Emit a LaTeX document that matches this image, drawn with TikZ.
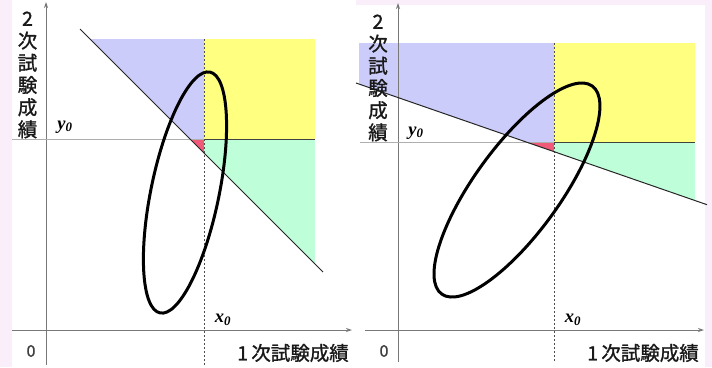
\documentclass[tikz,border=0pt]{standalone}
\usepackage{fontspec}
\setmainfont{Liberation Serif}
\newfontfamily\cjk[FakeBold=1.2]{Noto Sans CJK JP}
\usetikzlibrary{arrows.meta}
\definecolor{bgpink}{RGB}{250,238,250}
\definecolor{regblue}{RGB}{204,204,250}
\definecolor{regyellow}{RGB}{255,255,128}
\definecolor{reggreen}{RGB}{190,255,218}
\definecolor{regred}{RGB}{240,90,120}
\definecolor{axisgray}{RGB}{120,120,120}
\definecolor{y0gray}{RGB}{175,175,175}
\tikzset{
  axisline/.style={draw=axisgray,line width=1pt,-{Stealth[length=6pt,width=4pt]}},
  refline/.style={draw=y0gray,line width=1pt},
  bordline/.style={draw=black!75,line width=1pt},
  dashline/.style={draw=black!70,line width=0.7pt,dash pattern=on 2pt off 2pt},
  diagline/.style={draw=black!85,line width=1pt},
  ovalline/.style={draw=black,line width=3pt},
  cjklab/.style={font=\cjk\fontsize{19.5}{22.2}\selectfont,inner sep=0pt,text=black!90},
  zerolab/.style={font=\cjk\fontsize{16}{18}\selectfont,inner sep=0pt,text=black!75},
  varlab/.style={font=\fontsize{18.5}{20}\selectfont\bfseries\itshape,inner sep=0pt},
}
\begin{document}
\begin{tikzpicture}[x=1pt,y=-1pt]
\useasboundingbox (0,0) rectangle (712,367);
\fill[bgpink] (0,0) rectangle (712,367);
\fill[white] (12,0) rectangle (356,367);
\fill[white] (356,5) rectangle (705,367);

% ===== Left panel =====
\fill[regblue] (90,39) -- (204,39) -- (204,139) -- (190,139) -- cycle;
\fill[regred] (190,139) -- (204,139) -- (204,153) -- cycle;
\fill[regyellow] (204,39) rectangle (315,139);
\fill[reggreen] (204,139) -- (315,139) -- (315,264) -- (204,153) -- cycle;

\coordinate (LyB) at (46,365); \coordinate (LyT) at (46,2);
\coordinate (LxL) at (12,330); \coordinate (LxR) at (352,330);
\coordinate (Ly0L) at (12,139); \coordinate (Ly0M) at (204,139); \coordinate (Ly0R) at (315,139);
\coordinate (Lx0T) at (204,39); \coordinate (Lx0B) at (204,365);
\coordinate (LdA) at (80,29); \coordinate (LdB) at (323,272);
\coordinate (LeC) at (185,192.5);

\draw[axisline] (LyB) -- (LyT);
\draw[axisline] (LxL) -- (LxR);
\draw[refline] (Ly0L) -- (Ly0M);
\draw[bordline] (Ly0M) -- (Ly0R);
\draw[dashline] (Lx0T) -- (Lx0B);
\draw[diagline] (LdA) -- (LdB);
\draw[ovalline,rotate around={78.3:(LeC)}] (LeC) ellipse [x radius=123, y radius=34];

\node[cjklab,align=center] (Lylab) at (27.5,75) {2\\次\\試\\験\\成\\績};
\node[varlab] (Ly0) at (65,127) {y\textsubscript{0}};
\node[varlab] (Lx0) at (223,320) {x\textsubscript{0}};
\node[zerolab] (Lzero) at (31,351) {0};
\node[cjklab,anchor=east] (Lxlab) at (349,353) {1\,次試験成績};

% ===== Right panel =====
\fill[regblue] (359,43) -- (554,43) -- (554,142) -- (526,142) -- (359,84) -- cycle;
\fill[regred] (526,142) -- (554,142) -- (554,151.6) -- cycle;
\fill[regyellow] (554,43) rectangle (695,142);
\fill[reggreen] (554,142) -- (695,142) -- (695,200.6) -- (554,151.6) -- cycle;

\coordinate (RyB) at (398,362); \coordinate (RyT) at (398,3);
\coordinate (RxL) at (365,330); \coordinate (RxR) at (704,330);
\coordinate (Ry0L) at (360,142); \coordinate (Ry0M) at (554,142); \coordinate (Ry0R) at (695,142);
\coordinate (Rx0T) at (554,43); \coordinate (Rx0B) at (554,362);
\coordinate (RdA) at (356,83); \coordinate (RdB) at (707,204.7);
\coordinate (ReC) at (517,190);

\draw[axisline] (RyB) -- (RyT);
\draw[axisline] (RxL) -- (RxR);
\draw[refline] (Ry0L) -- (Ry0M);
\draw[bordline] (Ry0M) -- (Ry0R);
\draw[dashline] (Rx0T) -- (Rx0B);
\draw[diagline] (RdA) -- (RdB);
\draw[ovalline,rotate around={54.1:(ReC)}] (ReC) ellipse [x radius=128.4, y radius=43];

\node[cjklab,align=center] (Rylab) at (378,78) {2\\次\\試\\験\\成\\績};
\node[varlab] (Ry0) at (416,133) {y\textsubscript{0}};
\node[varlab] (Rx0) at (573,320) {x\textsubscript{0}};
\node[zerolab] (Rzero) at (384,351) {0};
\node[cjklab,anchor=east] (Rxlab) at (699,353) {1\,次試験成績};
\end{tikzpicture}
\end{document}
